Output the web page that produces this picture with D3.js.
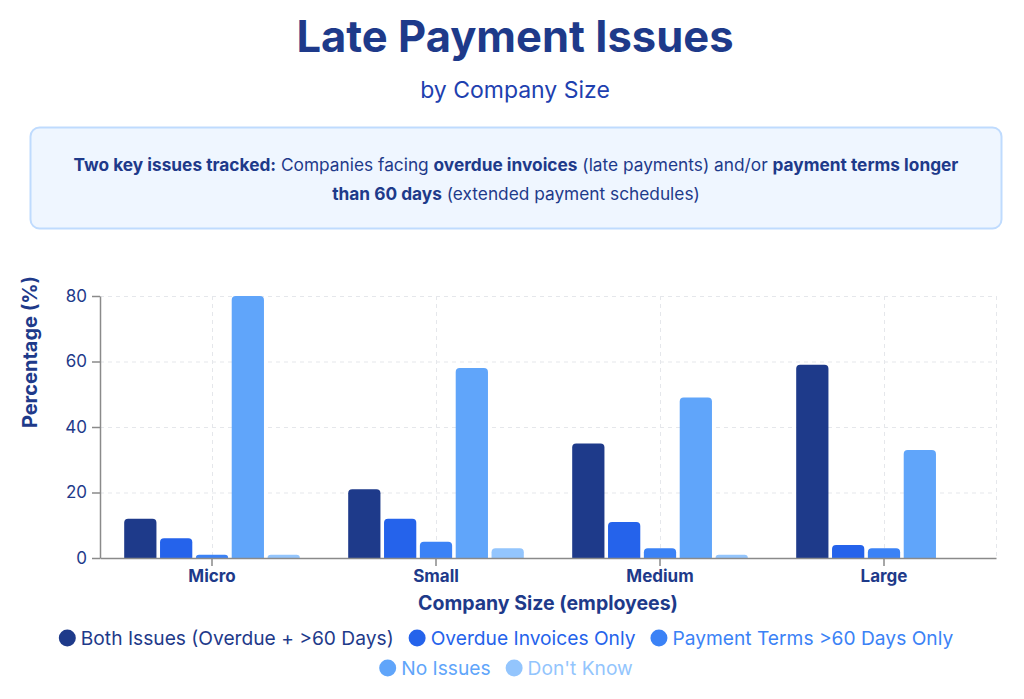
<!DOCTYPE html>
<html>
    <head>
        <meta charset="utf-8">
        <script src="https://d3js.org/d3.v7.min.js"></script>
        <style>
            body { margin: 0; background: #fff; font-family: Inter, "Noto Sans", sans-serif; }
        </style>
    </head>
    <body>
        <div id="my_dataviz"></div>
        <script>

            // data
            var sizes = ["Micro", "Small", "Medium", "Large"];
            var seriesNames = ["Both Issues (Overdue + >60 Days)", "Overdue Invoices Only",
                               "Payment Terms >60 Days Only", "No Issues", "Don't Know"];
            var bothIssues   = [12, 21, 35, 59];
            var overdueOnly  = [6, 12, 11, 4];
            var termsOnly    = [1, 5, 3, 3];
            var noIssues     = [80, 58, 49, 33];
            var dontKnow     = [1, 3, 1, 0];
            var yTicks = [0, 20, 40, 60, 80];

            var colors = ["#1e3a8a", "#2563eb", "#3b82f6", "#60a5fa", "#93c5fd"];
            var seriesValues = [bothIssues, overdueOnly, termsOnly, noIssues, dontKnow];

            var width = 1024, height = 699;
            var plotLeft = 100, plotRight = 996, plotTop = 296, plotBottom = 558;
            var navy = "#1e3a8a";

            var svg = d3.select("#my_dataviz")
                .append("svg")
                    .attr("width", width)
                    .attr("height", height);

            // titles
            svg.append("text")
                .attr("x", width / 2 + 3).attr("y", 52)
                .attr("text-anchor", "middle")
                .style("font-size", "43.5px").style("font-weight", 700)
                .attr("fill", navy)
                .text("Late Payment Issues");

            svg.append("text")
                .attr("x", width / 2 + 3).attr("y", 98)
                .attr("text-anchor", "middle")
                .style("font-size", "23px")
                .attr("fill", "#1e40af")
                .text("by Company Size");

            // info box
            svg.append("rect")
                .attr("x", 30.5).attr("y", 127.5)
                .attr("width", 971).attr("height", 101)
                .attr("rx", 9)
                .attr("fill", "#eff6ff")
                .attr("stroke", "#bfdbfe").attr("stroke-width", 2);

            var infoLines = [
                [["Two key issues tracked:", true], [" Companies facing ", false], ["overdue invoices", true],
                 [" (late payments) and/or ", false], ["payment terms longer", true]],
                [["than 60 days", true], [" (extended payment schedules)", false]]
            ];
            infoLines.forEach(function(line, i) {
                var t = svg.append("text")
                    .attr("x", width / 2 + 4).attr("y", 171 + i * 29)
                    .attr("text-anchor", "middle")
                    .style("font-size", "17.3px")
                    .attr("fill", navy);
                line.forEach(function(seg) {
                    t.append("tspan")
                        .style("font-weight", seg[1] ? 700 : 400)
                        .text(seg[0]);
                });
            });

            // scales
            var x0 = d3.scaleBand().domain(sizes).range([plotLeft, plotRight]);
            var x1 = d3.scaleBand().domain(d3.range(seriesNames.length))
                .range([x0.bandwidth() * 0.1, x0.bandwidth() * 0.9])
                .paddingInner(0.1).paddingOuter(0.05);
            var y = d3.scaleLinear().domain([0, 80]).range([plotBottom, plotTop]);

            // grid
            var grid = svg.append("g")
                .attr("stroke", "#e5e7eb").attr("stroke-dasharray", "4,4").attr("stroke-width", 1);
            grid.selectAll("line.h")
                .data(yTicks.filter(function(d) { return d > 0; }))
                .join("line")
                    .attr("x1", plotLeft).attr("x2", plotRight)
                    .attr("y1", function(d) { return y(d) + 0.5; })
                    .attr("y2", function(d) { return y(d) + 0.5; });
            grid.selectAll("line.v")
                .data(sizes.map(function(s) { return x0(s) + x0.bandwidth() / 2; }).concat([plotRight]))
                .join("line")
                    .attr("x1", function(d) { return d + 0.5; }).attr("x2", function(d) { return d + 0.5; })
                    .attr("y1", plotTop).attr("y2", plotBottom);

            // bars with rounded top corners
            function barPath(xp, w, yTop, yBot) {
                if (yBot - yTop <= 0) return "";
                var r = Math.min(4, (yBot - yTop), w / 2);
                return "M" + xp + "," + yBot +
                       "V" + (yTop + r) +
                       "Q" + xp + "," + yTop + " " + (xp + r) + "," + yTop +
                       "H" + (xp + w - r) +
                       "Q" + (xp + w) + "," + yTop + " " + (xp + w) + "," + (yTop + r) +
                       "V" + yBot + "Z";
            }

            var groups = svg.selectAll("g.size")
                .data(sizes)
                .join("g")
                    .attr("transform", function(d) { return "translate(" + x0(d) + ",0)"; });

            groups.selectAll("path")
                .data(function(d, i) {
                    return seriesValues.map(function(vals, k) { return {k: k, v: vals[i]}; });
                })
                .join("path")
                    .attr("d", function(d) { return barPath(x1(d.k), x1.bandwidth(), y(d.v), y(0)); })
                    .attr("fill", function(d) { return colors[d.k]; });

            // axes
            var yAxis = svg.append("g")
                .attr("transform", "translate(" + plotLeft + ",0)")
                .call(d3.axisLeft(y).tickValues(yTicks).tickSize(8).tickSizeOuter(0).tickPadding(5));
            var xAxis = svg.append("g")
                .attr("transform", "translate(0," + plotBottom + ")")
                .call(d3.axisBottom(x0).tickSize(8).tickSizeOuter(0).tickPadding(4));

            [yAxis, xAxis].forEach(function(a) {
                a.select(".domain").attr("stroke", "#8a8a8a").attr("stroke-width", 1.5);
                a.selectAll(".tick line").attr("stroke", "#8a8a8a").attr("stroke-width", 1.5);
                a.selectAll("text").attr("fill", navy).style("font-family", "Inter, sans-serif");
            });
            yAxis.selectAll("text").style("font-size", "17px");
            xAxis.selectAll("text").style("font-size", "17px").style("font-weight", 700);

            // axis titles
            svg.append("text")
                .attr("transform", "translate(37,352) rotate(-90)")
                .attr("text-anchor", "middle")
                .style("font-size", "20px").style("font-weight", 700)
                .attr("fill", navy)
                .text("Percentage (%)");

            svg.append("text")
                .attr("x", (plotLeft + plotRight) / 2).attr("y", 610)
                .attr("text-anchor", "middle")
                .style("font-size", "19.5px").style("font-weight", 700)
                .attr("fill", navy)
                .text("Company Size (employees)");

            // legend, two centred rows
            var legendRows = [[0, 1, 2], [3, 4]];
            legendRows.forEach(function(row, r) {
                var g = svg.append("g");
                var xpos = 0;
                row.forEach(function(k) {
                    var item = g.append("g").attr("transform", "translate(" + xpos + ",0)");
                    item.append("circle")
                        .attr("cx", 8.5).attr("cy", 0).attr("r", 8.5)
                        .attr("fill", colors[k]);
                    var t = item.append("text")
                        .attr("x", 22).attr("y", 6.5)
                        .style("font-size", "19.2px")
                        .attr("fill", colors[k])
                        .text(seriesNames[k]);
                    xpos += 22 + t.node().getComputedTextLength() + 15;
                });
                var total = xpos - 15;
                g.attr("transform", "translate(" + (506 - total / 2) + "," + (638 + r * 30) + ")");
            });
        </script>
    </body>
</html>
